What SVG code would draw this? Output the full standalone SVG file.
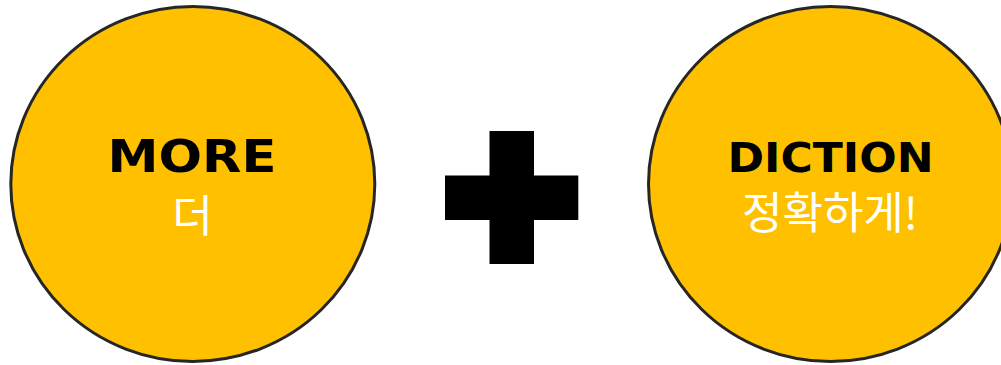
<svg xmlns="http://www.w3.org/2000/svg" width="1001" height="365" viewBox="0 0 1001 365">
<style>
.c{fill:#FFC000;stroke:#262626;stroke-width:3}
.en{font-family:"DejaVu Sans","Liberation Sans",sans-serif;font-weight:bold;fill:#000}
.ko{font-family:"Noto Sans CJK KR","Noto Sans",sans-serif;fill:#fff;text-anchor:middle}
</style>
<rect width="1001" height="365" fill="#fff"/>
<g id="node-more">
<ellipse class="c" cx="192.8" cy="184" rx="182" ry="177.5"/>
<text class="en" x="107.5" y="172.3" font-size="45" textLength="169" lengthAdjust="spacingAndGlyphs">MORE</text>
<text class="ko" x="192.5" y="232" font-size="44">더</text>
</g>
<g id="node-plus">
<rect x="489.5" y="131" width="44.5" height="133" fill="#000"/>
<rect x="445" y="175.5" width="133.3" height="44.5" fill="#000"/>
</g>
<g id="node-diction">
<ellipse class="c" cx="830.5" cy="184" rx="182" ry="177.5"/>
<text class="en" x="727.5" y="171.5" font-size="41" textLength="206" lengthAdjust="spacingAndGlyphs">DICTION</text>
<text class="ko" x="830" y="229" font-size="44">정확하게!</text>
</g>
<g id="connectors"/>
</svg>
